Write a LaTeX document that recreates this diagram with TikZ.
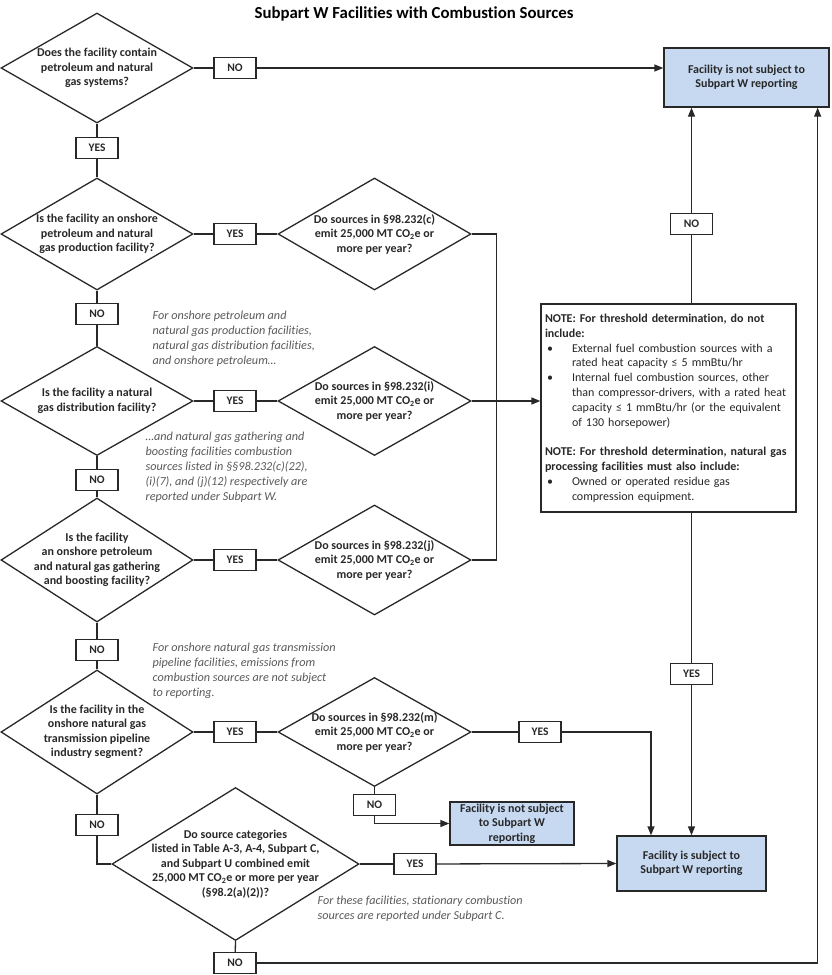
\documentclass[tikz,border=0pt]{standalone}
\usepackage{fontspec}
\setmainfont{Carlito}[Ligatures=CommonOff]
\usetikzlibrary{shapes.geometric,arrows.meta,positioning,calc}
\definecolor{boxblue}{RGB}{198,217,241}
\definecolor{asidegray}{RGB}{89,89,89}
\definecolor{linegray}{RGB}{40,40,40}

\begin{document}
\begin{tikzpicture}[x=1pt,y=-1pt,line width=1.3pt,color=linegray,
    q/.style={diamond,draw,inner sep=0pt,minimum width=192pt,minimum height=110pt},
    qtext/.style={align=center,inner sep=0pt,font=\bfseries\fontsize{12}{14.5}\selectfont},
    lab/.style={draw,fill=white,inner sep=0pt,minimum width=42pt,minimum height=21pt,font=\bfseries\fontsize{11.5}{14}\selectfont},
    endbox/.style={draw,fill=boxblue,align=center,inner sep=0pt,font=\bfseries\fontsize{12}{14.5}\selectfont},
    aside/.style={anchor=north west,align=left,inner sep=0pt,text=asidegray,font=\itshape\fontsize{12.2}{15.2}\selectfont},
    arr/.style={-{Triangle[length=9pt,width=7pt]}}]
    \useasboundingbox (0,0) rectangle (831,975);

    % Title
    \node[font=\bfseries\fontsize{16.8}{20}\selectfont,text=black] (title) at (414,14) {Subpart W Facilities with Combustion Sources};

    % Questions (left column)
    \node[q] (d1) at (97,68) {};
    \node[qtext] (d1t) at (d1) {Does the facility contain\\petroleum and natural\\gas systems?};
    \node[q,minimum height=112pt] (d2) at (97,234) {};
    \node[qtext] (d2t) at (d2) {Is the facility an onshore\\petroleum and natural\\gas production facility?};
    \node[q,minimum height=109pt] (d4) at (97,401) {};
    \node[qtext] (d4t) at (d4) {Is the facility a natural\\gas distribution facility?};
    \node[q,minimum height=124pt] (d6) at (97,560) {};
    \node[qtext] (d6t) at (d6) {Is the facility\\an onshore petroleum\\and natural gas gathering\\and boosting facility?};
    \node[q,minimum height=124pt] (d8) at (97,732) {};
    \node[qtext] (d8t) at (d8) {Is the facility in the\\onshore natural gas\\transmission pipeline\\industry segment?};

    % Thresholds (right column)
    \node[q,minimum width=193pt,minimum height=112pt] (d3) at (374.5,234) {};
    \node[qtext] (d3t) at (d3) {Do sources in §98.232(c)\\emit 25,000 MT CO\textsubscript{2}e or\\more per year?};
    \node[q,minimum width=193pt,minimum height=109pt] (d5) at (374.5,401) {};
    \node[qtext] (d5t) at (d5) {Do sources in §98.232(i)\\emit 25,000 MT CO\textsubscript{2}e or\\more per year?};
    \node[q,minimum width=193pt] (d7) at (374.5,560) {};
    \node[qtext] (d7t) at (d7) {Do sources in §98.232(j)\\emit 25,000 MT CO\textsubscript{2}e or\\more per year?};
    \node[q,minimum width=193pt,minimum height=109pt] (d9) at (374.5,732) {};
    \node[qtext] (d9t) at (d9) {Do sources in §98.232(m)\\emit 25,000 MT CO\textsubscript{2}e or\\more per year?};
    \node[q,minimum width=247pt,minimum height=153pt] (d10) at (235.5,864) {};
    \node[qtext] (d10t) at (d10) {Do source categories\\listed in Table A-3, A-4, Subpart C,\\and Subpart U combined emit\\25,000 MT CO\textsubscript{2}e or more per year\\(§98.2(a)(2))?};

    % Outcomes
    \node[endbox,minimum width=165pt,minimum height=59pt] (ns1) at (746.5,77.5) {Facility is not subject to\\Subpart W reporting};
    \node[endbox,minimum width=124pt,minimum height=43pt] (ns2) at (512,823.5) {Facility is not subject\\to Subpart W\\reporting};
    \node[endbox,minimum width=149pt,minimum height=55pt] (sw) at (691.5,863.5) {Facility is subject to\\Subpart W reporting};

    % Threshold note
    \node[draw,fill=white,minimum width=255pt,minimum height=208pt,text width=247pt,align=left,inner sep=4pt,
          font=\fontsize{12}{14.8}\selectfont] (note) at (668.5,408) {%
        \textbf{NOTE: For threshold determination, do not}\\
        \textbf{include:}\\
        \makebox[27pt][l]{\hspace{2pt}\textbullet}External fuel combustion sources with a\\
        \hspace*{27pt}rated heat capacity ≤ 5 mmBtu/hr\\
        \makebox[27pt][l]{\hspace{2pt}\textbullet}Internal fuel combustion sources, other\\
        \hspace*{27pt}than compressor-drivers, with a rated heat\\
        \hspace*{27pt}capacity ≤ 1 mmBtu/hr (or the equivalent\\
        \hspace*{27pt}of 130 horsepower)\\[14.8pt]
        \textbf{NOTE: For threshold determination, natural gas}\\
        \textbf{processing facilities must also include:}\\
        \makebox[27pt][l]{\hspace{2pt}\textbullet}Owned or operated residue gas\\
        \hspace*{27pt}compression equipment.};

    % Side remarks
    \node[aside] (i1) at (152,310) {For onshore petroleum and\\natural gas production facilities,\\natural gas distribution facilities,\\and onshore petroleum…};
    \node[aside] (i2) at (145,431) {…and natural gas gathering and\\boosting facilities combustion\\sources listed in §§98.232(c)(22),\\(i)(7), and (j)(12) respectively are\\reported under Subpart W.};
    \node[aside] (i3) at (152,642) {For onshore natural gas transmission\\pipeline facilities, emissions from\\combustion sources are not subject\\to reporting.};
    \node[aside] (i4) at (317,895) {For these facilities, stationary combustion\\sources are reported under Subpart C.};

    % YES / NO labels
    \node[lab] (n1) at (235,68) {NO};
    \node[lab] (y1) at (97,148) {YES};
    \node[lab] (y2) at (235,234) {YES};
    \node[lab] (n2) at (97,314) {NO};
    \node[lab] (y3) at (235,401) {YES};
    \node[lab] (n3) at (97,480) {NO};
    \node[lab] (y4) at (235,560) {YES};
    \node[lab] (n4) at (97,650) {NO};
    \node[lab] (y5) at (235,732) {YES};
    \node[lab] (n5) at (97,825) {NO};
    \node[lab] (n6) at (374.5,805) {NO};
    \node[lab] (y6) at (540,732) {YES};
    \node[lab] (y7) at (415,864) {YES};
    \node[lab] (n7) at (235,963) {NO};
    \node[lab] (n8) at (691.5,224) {NO};
    \node[lab] (y8) at (691.5,674) {YES};

    % Main chain
    \draw (d1.east) -- (n1);
    \draw[arr] (n1) -- (n1 -| ns1.west);
    \draw (d1.south) -- (y1) -- (d2.north);
    \draw (d2.south) -- (n2) -- (d4.north);
    \draw (d4.south) -- (n3) -- (d6.north);
    \draw (d6.south) -- (n4) -- (d8.north);
    \draw (d8.south) -- (n5) |- (d10.west);
    \draw (d2.east) -- (y2) -- (d3.west);
    \draw (d4.east) -- (y3) -- (d5.west);
    \draw (d6.east) -- (y4) -- (d7.west);
    \draw (d8.east) -- (y5) -- (d9.west);

    % Threshold results
    \draw (d3.east) -- ++(24.5,0) |- (d7.east);
    \draw[arr] (d5.east) -- (d5.east -| note.west);
    \draw (note.north -| sw.north) -- (n8);
    \draw[arr] (n8) -- (n8 |- ns1.south);
    \draw (note.south -| sw.north) -- (y8);
    \draw[arr] (y8) -- (sw.north);
    \draw (d9.east) -- (y6);
    \draw[arr] (y6) -| ($(sw.north)+(-40.5,0)$);
    \draw (d9.south) -- (n6);
    \draw[arr] (n6) |- (ns2.west);
    \draw (d10.east) -- (y7);
    \draw[arr] (y7) -- (sw.west);
    \draw (d10.south) -- (n7);
    \draw[arr] (n7) -| ($(ns1.south east)+(-12,0)$);
\end{tikzpicture}
\end{document}
